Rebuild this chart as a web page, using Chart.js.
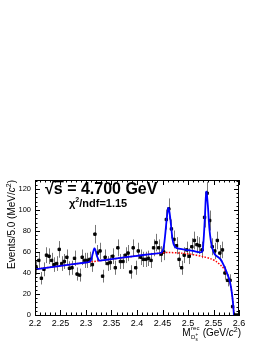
<!DOCTYPE html>
<html>
<head>
<meta charset="utf-8">
<script src="https://cdn.jsdelivr.net/npm/chart.js@4.4.0/dist/chart.umd.min.js"></script>
<style>
html,body{margin:0;padding:0;background:#fff;}
</style>
</head>
<body>
<canvas id="myChart" width="266" height="344"></canvas>
<script>
// events per 5 MeV bin, 2.20 -> 2.60 GeV/c2
var counts = [45,52,35,43.5,57,56,52,48,49,62.5,
              49,51,55,44.5,45,54,39,38,55,52,
              52,53,48,77,59,61,37,55,49,50,
              56,45,64,51,51,57,59,41,64,45,
              61,55,53,53,54,52,64,69,64,58,
              60,91,101,82,72,66,53,45,57,62,
              56,65,71,67,66,62,93,116,90,65,
              61,71,59,62,40,33,33,8,0,0]
var binLow = 2.2, binWidth = 0.005

// background (red dashed)
var bkgX = [2.20,2.25,2.30,2.35,2.40,2.43,2.46,2.49,2.51,2.53,2.545,2.555,2.565,2.572,2.578,2.582,2.585,2.587,2.5885,2.5895,2.5900]
var bkgY = [43.5,46.8,50,53.2,56.4,58.2,59.5,58.8,57.5,55.5,53.5,51,47,43,37.5,31.5,24,17,10,4,0]

// total fit (blue)
var fitX = [2.200,2.250,2.300,2.306,2.310,2.313,2.3163,2.319,2.322,2.326,2.330,2.350,2.400,2.430,2.448,2.452,2.455,2.458,2.4614,2.464,2.467,2.470,2.473,2.477,2.490,2.510,2.527,2.530,2.533,2.5359,2.539,2.542,2.545,2.548,2.552,2.558,2.564,2.569,2.574,2.578,2.582,2.585,2.587,2.5885,2.5895,2.590]
var fitY = [43.5,46.8,50,50.5,52.5,58,63.5,61,55.5,51.8,52,53.2,56.4,58.2,59.6,64,75,90,102,97,84,71,66,64,62.5,61,60,68,92,117.5,104,82,70,63,58,55.5,53,48.5,43,38,32,24.5,17,10,4,0]

var xTicks = [2.2,2.25,2.3,2.35,2.4,2.45,2.5,2.55,2.6]
var yTicks = [0,20,40,60,80,100,120]
var yMax = 128.6

var dataPts = counts.map(function(c,i){
  return {x: binLow + binWidth*(i+0.5), y: c}
})
var bkgPts = bkgX.map(function(x,i){ return {x:x, y:bkgY[i]} })
var fitPts = fitX.map(function(x,i){ return {x:x, y:fitY[i]} })

var errorBars = {
  id:'errorBars',
  beforeDatasetsDraw: function(chart){
    var ctx = chart.ctx, xs = chart.scales.x, ys = chart.scales.y
    ctx.save()
    ctx.strokeStyle = '#777'
    ctx.lineWidth = 1
    dataPts.forEach(function(p){
      var e = Math.sqrt(p.y) // poisson error
      if(e <= 0) return
      var px = Math.round(xs.getPixelForValue(p.x)) + 0.5
      ctx.beginPath()
      ctx.moveTo(px, ys.getPixelForValue(p.y - e))
      ctx.lineTo(px, ys.getPixelForValue(Math.min(p.y + e, yMax)))
      ctx.stroke()
    })
    ctx.restore()
  }
}

var frame = {
  id:'frame',
  afterDraw: function(chart){
    var ctx = chart.ctx, a = chart.chartArea
    var xs = chart.scales.x, ys = chart.scales.y
    ctx.save()
    ctx.strokeStyle = '#000'
    ctx.lineWidth = 1
    ctx.strokeRect(a.left+0.5, a.top+0.5, a.right-a.left-1, a.bottom-a.top)
    ctx.beginPath()
    // x ticks, major every 0.05, minor every 0.01
    for(var k=0;k<=40;k++){
      var v = 2.2 + k*0.01
      var px = Math.round(xs.getPixelForValue(v)) + 0.5
      var len = (k%5==0) ? 5 : 2.5
      ctx.moveTo(px, a.bottom); ctx.lineTo(px, a.bottom-len)
      ctx.moveTo(px, a.top); ctx.lineTo(px, a.top+len)
    }
    // y ticks, major every 20, minor every 4
    for(var j=0;j*4<=yMax;j++){
      var py = Math.round(ys.getPixelForValue(j*4)) + 0.5
      var l2 = (j%5==0) ? 5 : 2.5
      ctx.moveTo(a.left, py); ctx.lineTo(a.left+l2, py)
      ctx.moveTo(a.right, py); ctx.lineTo(a.right-l2, py)
    }
    ctx.stroke()

    ctx.fillStyle = '#000'
    // sqrt(s) label
    ctx.font = 'bold 16px "Liberation Sans", Arial, sans-serif'
    ctx.textBaseline = 'alphabetic'
    ctx.textAlign = 'left'
    ctx.fillText('\u221A', 45, 194)
    var sx = 45 + ctx.measureText('\u221A').width
    ctx.fillText('s = 4.700 GeV', sx, 194)
    ctx.fillRect(sx-1, 181, ctx.measureText('s').width+2, 1.3)

    ctx.font = 'bold 11px "Liberation Sans", Arial, sans-serif'
    var cx = 69
    ctx.fillText('\u03C7', cx, 207)
    cx += ctx.measureText('\u03C7').width
    ctx.font = 'bold 7px "Liberation Sans", Arial, sans-serif'
    ctx.fillText('2', cx, 202)
    cx += ctx.measureText('2').width
    ctx.font = 'bold 11px "Liberation Sans", Arial, sans-serif'
    ctx.fillText('/ndf=1.15', cx, 207)

    // y title
    ctx.save()
    ctx.translate(15, 180)
    ctx.rotate(-Math.PI/2)
    var f = '10px "Liberation Sans", Arial, sans-serif'
    var parts = [['Events/5.0 (MeV/', f, 0], ['c', 'italic '+f, 0], ['2', '7px "Liberation Sans", Arial, sans-serif', -4], [')', f, 0]]
    var tw = 0
    parts.forEach(function(p){ ctx.font = p[1]; tw += ctx.measureText(p[0]).width })
    var tx = -tw
    parts.forEach(function(p){ ctx.font = p[1]; ctx.fillText(p[0], tx, p[2]); tx += ctx.measureText(p[0]).width })
    ctx.restore()

    // x title
    var xf = '10px "Liberation Sans", Arial, sans-serif'
    var small = '6px "Liberation Sans", Arial, sans-serif'
    var tiny = '4.5px "Liberation Sans", Arial, sans-serif'
    var base = 336
    ctx.font = xf
    var wM = ctx.measureText('M').width
    ctx.font = small
    var wSub = ctx.measureText('D').width
    ctx.font = tiny
    wSub += ctx.measureText('s').width + 0.5
    ctx.font = small
    var wSup = ctx.measureText('rec').width
    var wIdx = Math.max(wSub, wSup)
    var rest = [[' (GeV/', xf, 0], ['c', 'italic '+xf, 0], ['2', '7px "Liberation Sans", Arial, sans-serif', -4], [')', xf, 0]]
    var wRest = 0
    rest.forEach(function(p){ ctx.font = p[1]; wRest += ctx.measureText(p[0]).width })
    var x0 = a.right + 1 - (wM + wIdx + wRest)
    ctx.font = xf
    ctx.fillText('M', x0, base)
    var ix = x0 + wM + 0.5
    ctx.font = small
    ctx.fillText('rec', ix, base - 6)
    ctx.fillText('D', ix, base + 3)
    var dx = ix + ctx.measureText('D').width
    ctx.font = tiny
    ctx.fillText('s', dx, base + 5)
    ctx.fillText('+', dx, base)
    var rx = x0 + wM + wIdx + 1
    rest.forEach(function(p){ ctx.font = p[1]; ctx.fillText(p[0], rx, base + p[2]); rx += ctx.measureText(p[0]).width })
    ctx.restore()
  }
}

var myChart = document.getElementById('myChart').getContext('2d')
var chart = new Chart(myChart, {
  type: 'scatter',
  data: {
    datasets: [
      {
        label: 'Total fit',
        type: 'line',
        data: fitPts,
        borderColor: '#0000ff',
        borderWidth: 1.8,
        pointRadius: 0,
        tension: 0.3,
        fill: false,
        order: 0
      },
      {
        label: 'Background',
        type: 'line',
        data: bkgPts,
        borderColor: '#ff0000',
        borderWidth: 1.5,
        borderDash: [1.5, 1.5],
        pointRadius: 0,
        tension: 0.3,
        fill: false,
        order: 1
      },
      {
        label: 'Data',
        data: dataPts,
        backgroundColor: '#000',
        borderColor: '#000',
        pointRadius: 1.7,
        pointStyle: 'rect',
        order: 2
      }
    ]
  },
  options: {
    responsive: false,
    animation: false,
    layout: { padding: { left: 4, right: 27, top: 180, bottom: 0 } },
    plugins: { legend: { display: false }, tooltip: { enabled: false } },
    scales: {
      x: {
        type: 'linear',
        min: 2.2, max: 2.6,
        afterBuildTicks: function(s){ s.ticks = xTicks.map(function(v){ return {value:v} }) },
        afterFit: function(s){ s.height = 29 },
        ticks: {
          color: '#000', padding: 3, maxRotation: 0, autoSkip: false,
          font: { family: '"Liberation Sans", Arial, sans-serif', size: 9 },
          callback: function(v){ return String(v) }
        },
        grid: { display: true, drawOnChartArea: false, drawTicks: false },
        border: { display: true, color: '#000' }
      },
      y: {
        min: 0, max: yMax,
        afterBuildTicks: function(s){ s.ticks = yTicks.map(function(v){ return {value:v} }) },
        afterFit: function(s){ s.width = 31 },
        ticks: {
          color: '#000', padding: 4,
          font: { family: '"Liberation Sans", Arial, sans-serif', size: 7.5 }
        },
        grid: { display: true, drawOnChartArea: false, drawTicks: false },
        border: { display: true, color: '#000' }
      }
    }
  },
  plugins: [errorBars, frame]
})
</script>
</body>
</html>
